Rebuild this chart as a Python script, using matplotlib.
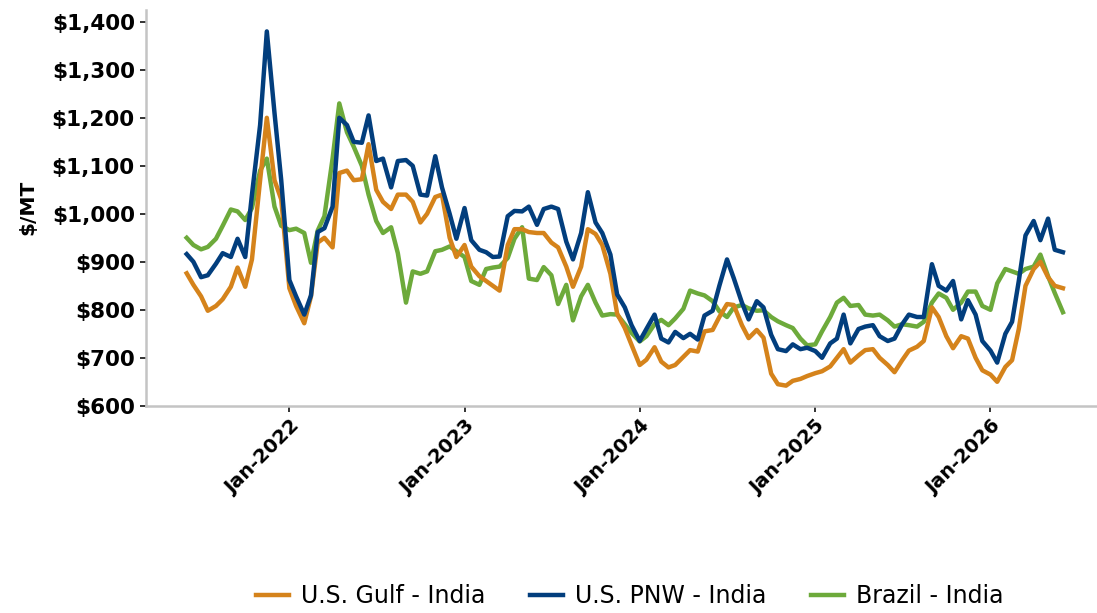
import numpy as np
import pandas as pd
import matplotlib
matplotlib.use('Agg')
import matplotlib.pyplot as plt
import matplotlib.dates as mdates
from matplotlib.ticker import FuncFormatter

# -- Дані (напівмісячні точки) ----------------------------------------------
dates = pd.date_range('2021-06-01', periods=121, freq='SMS')

gulf = [
    876, 852, 828, 798, 808, 822, 848, 888, 848, 905,
    1070, 1200, 1070, 1030, 845, 808, 772, 828, 940, 950,
    930, 1085, 1090, 1070, 1072, 1145, 1050, 1025, 1010, 1040,
    1040, 1025, 982, 1000, 1035, 1040, 950, 910, 935, 890,
    870, 860, 850, 840, 935, 968, 968, 962, 960, 960,
    940, 930, 890, 848, 890, 968, 958, 935, 875, 792,
    762, 727, 685, 696, 722, 692, 680, 685, 702, 716,
    713, 755, 758, 785, 812, 810, 768, 741, 758, 742,
    667, 645, 642, 652, 656, 662, 668, 672, 682, 700,
    718, 690, 705, 716, 718, 700, 685, 670, 695, 715,
    723, 735, 805, 785, 745, 720, 745, 740, 700, 674,
    665, 650, 681, 695, 760, 850, 885, 900, 868, 850,
    845,
]

pnw = [
    916, 900, 868, 872, 896, 918, 910, 948, 910, 1040,
    1185, 1380, 1210, 1070, 862, 828, 790, 830, 962, 970,
    1015, 1200, 1185, 1150, 1148, 1205, 1110, 1115, 1055, 1110,
    1112, 1100, 1040, 1038, 1120, 1055, 1000, 948, 1012, 945,
    925, 920, 910, 911, 995, 1006, 1005, 1015, 977, 1010,
    1015, 1010, 942, 905, 960, 1045, 982, 960, 915, 832,
    805, 768, 735, 760, 790, 740, 732, 754, 741, 750,
    738, 788, 798, 850, 905, 866, 815, 780, 818, 805,
    748, 718, 714, 728, 718, 721, 714, 700, 730, 740,
    790, 730, 760, 765, 768, 745, 735, 740, 770, 790,
    785, 785, 895, 850, 840, 860, 780, 820, 790, 735,
    715, 690, 750, 775, 860, 955, 985, 945, 990, 925,
    920,
]

brazil = [
    950, 935, 926, 931, 948, 975, 1009, 1005, 987, 1012,
    1090, 1115, 1015, 975, 966, 969, 960, 898, 965, 995,
    1115, 1230, 1170, 1140, 1100, 1040, 985, 960, 972, 918,
    815, 880, 875, 880, 922, 925, 932, 922, 910, 860,
    852, 885, 888, 890, 908, 948, 972, 865, 862, 889,
    872, 812, 852, 778, 828, 852, 815, 788, 791, 790,
    770, 752, 734, 745, 770, 779, 768, 782, 802, 840,
    834, 830, 818, 797, 785, 805, 810, 803, 798, 799,
    785, 776, 768, 762, 740, 726, 728, 755, 785, 815,
    825, 808, 810, 790, 788, 790, 778, 765, 770, 768,
    765, 775, 815, 834, 825, 800, 815, 838, 838, 808,
    800, 855, 885, 880, 875, 885, 890, 915, 870, 835,
    795,
]

C_GULF   = '#D5831B'
C_PNW    = '#023E7D'
C_BRAZIL = '#6DAA3B'

# -- Графік -------------------------------------------------------------------
fig = plt.figure(figsize=(10.97, 6.13), dpi=100)
ax = fig.add_axes([0.133, 0.338, 0.867, 0.646])

l_br, = ax.plot(dates, brazil, color=C_BRAZIL, linewidth=3.2, label='Brazil - India')
l_gu, = ax.plot(dates, gulf,   color=C_GULF,   linewidth=3.2, label='U.S. Gulf - India')
l_pn, = ax.plot(dates, pnw,    color=C_PNW,    linewidth=3.2, label='U.S. PNW - India')

ax.set_ylim(600, 1425)
ax.set_yticks(np.arange(600, 1401, 100))
ax.yaxis.set_major_formatter(FuncFormatter(lambda v, p: f'${v:,.0f}'))
ax.set_xlim(pd.Timestamp('2021-03-08'), pd.Timestamp('2026-08-11'))
ax.set_xticks([pd.Timestamp(f'{y}-01-01') for y in range(2022, 2027)])
ax.xaxis.set_major_formatter(mdates.DateFormatter('%b-%Y'))

for s in ['top', 'right']:
    ax.spines[s].set_visible(False)
for s in ['left', 'bottom']:
    ax.spines[s].set_color('#C4C4C4')
    ax.spines[s].set_linewidth(1.8)

ax.tick_params(axis='both', direction='out', length=4, width=1.4, color='#333333')
ax.tick_params(axis='y', labelsize=15.5, pad=4)
ax.tick_params(axis='x', labelsize=14, pad=4)
for lab in ax.get_yticklabels():
    lab.set_fontweight('bold')
for lab in ax.get_xticklabels():
    lab.set_fontweight('bold')
    lab.set_rotation(45)
    lab.set_ha('right')
    lab.set_rotation_mode('anchor')

ax.set_ylabel('$/MT', fontsize=14.5, fontweight='bold', labelpad=10)

fig.legend(handles=[l_gu, l_pn, l_br], loc='center',
           bbox_to_anchor=(0.574, 0.027), ncol=3, frameon=False,
           fontsize=17, handlelength=1.4, handletextpad=0.5,
           columnspacing=1.9)

plt.savefig('out.png', dpi=100)
plt.close()
